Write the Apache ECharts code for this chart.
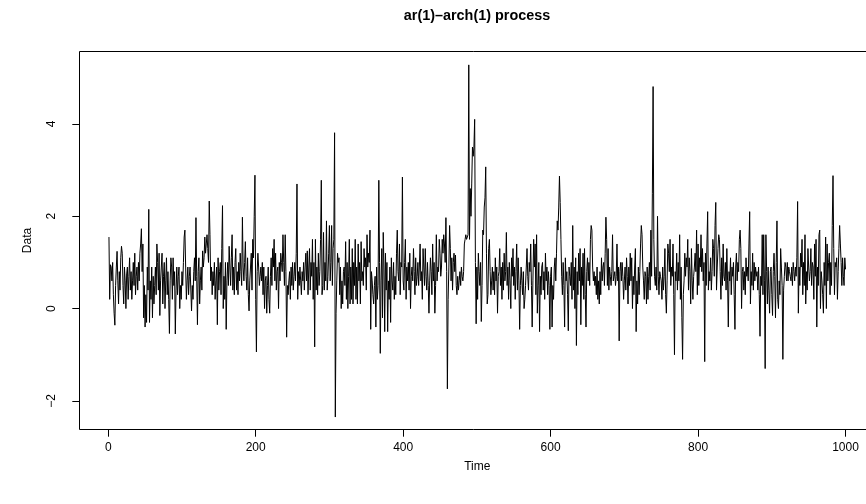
<!DOCTYPE html>
<html><head><meta charset="utf-8">
<script src="https://cdn.jsdelivr.net/npm/echarts@6/dist/echarts.min.js"></script>
<style>html,body{margin:0;padding:0;background:#fff}#c{width:866px;height:504px}</style>
</head><body><div id="c"></div>
<script>
const titleText = 'ar(1)–arch(1) process';
const xName = 'Time';
const yName = 'Data';
const xTicks = [0, 200, 400, 600, 800, 1000];
const yTicks = [-2, 0, 2, 4];
const values = [
1.55,0.2,0.95,0.9,0.6,1.0,0.3,-0.1,-0.36,0.5,0.9,1.24,0.6,0.1,0.8,0.4,1.1,1.35,1.2,0.5,
0.1,0.9,0.6,0.0,0.75,0.9,0.2,0.7,1.1,0.4,0.8,0.2,0.6,1.0,0.5,1.2,0.3,0.7,0.9,0.4,
1.0,0.6,1.2,1.4,1.73,0.8,1.4,-0.2,0.5,-0.4,0.3,-0.3,0.9,0.4,2.15,-0.3,0.6,0.2,0.9,-0.2,
0.7,0.1,0.5,0.9,0.3,1.4,1.0,0.4,1.2,-0.15,0.6,0.9,1.2,0.1,0.7,1.0,0.0,0.6,1.1,0.3,
0.8,0.2,-0.54,0.6,1.1,0.9,0.2,1.1,0.5,0.8,-0.55,0.4,0.9,0.3,0.7,0.9,0.0,0.5,0.2,0.8,
0.5,1.0,1.55,1.7,0.9,0.2,0.6,0.9,0.3,0.7,0.9,0.9,-0.05,0.5,0.2,0.8,1.1,0.6,1.97,0.7,
-0.35,0.8,1.1,0.1,0.6,0.9,0.4,1.25,0.9,1.1,1.55,1.2,1.4,1.6,1.3,1.0,2.33,1.6,0.6,0.9,
0.3,0.8,0.5,1.0,0.2,0.6,0.9,-0.35,1.1,0.4,0.8,1.0,0.3,1.3,2.23,0.0,0.7,0.2,1.0,-0.45,
0.6,1.0,0.5,1.35,0.9,0.5,1.1,1.6,0.4,0.9,0.3,1.0,1.3,0.4,0.8,0.3,1.0,0.6,1.2,0.8,
0.5,1.98,0.9,0.6,1.0,1.45,0.7,0.4,1.1,0.3,-0.05,0.6,0.9,1.2,0.4,1.5,1.1,2.0,2.89,0.2,
-0.94,0.8,1.2,0.9,0.5,0.7,0.9,0.6,1.0,0.3,0.9,0.0,0.6,0.7,-0.1,0.5,0.9,0.2,-0.1,0.7,
1.1,0.5,1.3,0.9,1.5,0.6,1.2,0.4,0.8,0.9,0.0,1.0,0.6,1.2,1.0,0.8,1.6,1.0,0.5,1.6,
0.8,-0.62,0.5,0.3,0.6,0.8,0.2,0.9,0.5,1.0,0.4,0.7,1.0,0.6,1.2,2.7,0.2,0.8,0.5,0.9,
0.6,0.3,0.8,0.6,1.0,0.4,0.9,1.2,0.6,1.25,0.3,0.9,1.3,0.4,1.0,0.7,1.5,0.2,1.0,-0.83,
1.5,0.4,0.9,0.3,1.2,0.5,0.8,1.5,2.78,0.3,0.5,1.65,0.4,1.0,0.6,1.9,0.4,0.7,1.2,1.8,
0.6,1.0,1.8,0.5,1.3,1.5,3.81,-2.35,-0.1,0.6,1.2,1.0,1.1,0.3,0.9,0.0,0.6,0.1,0.8,0.9,
0.5,1.45,0.2,1.0,0.0,0.7,1.5,0.1,0.9,0.2,1.3,0.1,1.0,0.5,1.5,0.2,0.9,0.1,1.4,0.6,
1.0,0.1,1.45,0.6,0.8,0.5,1.3,0.9,1.1,0.4,1.6,0.9,1.2,1.0,1.7,-0.45,0.8,0.6,0.3,0.1,
0.5,0.7,-0.4,0.9,0.2,0.5,2.78,1.0,-0.97,0.6,1.3,-0.2,1.65,0.9,-0.5,1.2,0.4,1.0,-0.5,0.6,
0.2,0.9,-0.3,1.1,0.6,0.4,1.0,0.2,0.7,0.3,1.2,1.7,0.8,0.6,1.4,0.3,1.0,0.9,2.85,0.6,
0.4,1.0,1.5,0.2,0.9,0.6,1.0,0.4,1.2,0.0,0.7,0.9,0.6,1.3,0.8,0.3,1.1,0.5,0.7,1.0,
0.5,0.9,1.4,0.6,0.8,0.2,1.3,0.9,0.5,1.3,0.7,0.4,1.0,0.5,-0.1,0.6,1.1,0.8,0.3,1.4,
0.6,1.0,-0.1,0.5,1.6,0.6,0.9,0.8,1.5,1.2,0.7,0.9,1.5,1.2,1.6,1.4,1.0,1.97,0.8,-1.74,
0.2,0.9,1.8,1.3,0.6,1.1,0.4,1.0,1.2,0.8,1.16,0.5,0.3,0.7,0.4,0.6,0.8,0.5,0.9,0.7,
0.6,0.8,1.4,1.5,1.6,1.5,1.5,1.6,5.28,1.5,2.6,2.0,2.7,3.5,3.3,3.5,4.1,1.0,-0.33,0.9,
0.2,1.2,0.8,0.5,1.0,-0.28,0.5,1.7,1.6,2.2,2.4,3.07,1.2,0.1,0.3,1.3,1.5,0.8,0.3,0.6,
0.9,0.4,0.8,0.3,1.1,0.6,0.9,-0.1,0.7,0.8,1.3,0.5,0.9,0.2,1.0,0.4,1.2,0.6,0.8,1.65,
0.5,0.9,0.2,1.0,0.6,0.0,1.1,0.7,1.3,0.5,0.9,0.2,0.8,1.4,0.4,1.1,0.6,-0.45,0.5,0.9,
0.6,0.3,0.8,0.0,0.2,0.5,0.9,1.3,0.7,0.4,1.0,0.8,1.4,0.5,-0.4,0.6,1.5,0.9,1.4,0.3,
1.6,-0.1,0.5,1.0,-0.5,0.7,0.3,0.9,1.0,0.4,0.8,0.2,1.2,0.6,0.9,0.3,0.8,0.5,-0.45,0.7,
0.9,-0.4,0.5,0.2,0.9,1.1,0.6,1.2,1.9,1.7,2.2,2.87,2.3,1.5,0.7,0.3,1.0,0.5,-0.4,1.1,
0.6,0.8,0.3,-0.48,0.9,0.7,0.5,1.0,0.2,1.8,0.4,0.9,0.0,1.1,-0.8,0.8,0.3,1.2,0.6,1.3,
-0.35,0.9,0.5,1.2,0.2,1.3,0.3,-0.4,0.8,1.1,0.6,1.0,0.5,1.5,1.8,1.7,0.9,0.6,0.8,0.5,
0.7,0.3,0.9,0.2,0.6,0.1,0.8,0.3,1.1,0.6,0.9,1.0,0.5,1.2,1.98,1.5,0.5,1.3,0.4,0.9,
0.7,0.5,0.8,1.6,0.6,0.7,0.8,0.5,0.7,1.4,0.6,0.9,-0.7,0.8,1.0,0.6,1.0,0.7,0.2,0.6,
0.9,0.4,1.1,0.7,0.1,0.9,0.5,1.2,0.6,1.1,0.0,0.7,0.3,0.9,1.3,-0.5,0.6,0.1,0.9,0.3,
0.8,1.4,1.8,1.6,0.9,0.6,0.2,0.8,0.7,0.1,0.9,0.2,0.7,1.0,0.4,1.7,0.7,2.5,4.81,1.5,
0.7,0.5,0.9,0.4,2.0,0.7,0.3,0.8,0.7,0.6,0.2,0.9,0.4,0.7,1.3,0.3,-0.1,0.6,1.4,1.2,
0.8,1.5,0.5,0.9,0.7,1.4,0.3,-1.0,0.8,0.6,1.2,0.4,1.0,0.6,1.6,0.2,0.9,-0.2,-1.1,0.3,
0.6,1.2,0.7,1.1,0.9,1.5,0.4,1.1,0.8,0.1,1.3,0.6,0.2,0.7,0.9,1.2,0.8,1.7,0.3,1.4,
0.5,1.1,0.9,1.6,0.8,1.3,0.6,1.0,-1.15,1.2,0.5,1.4,2.1,0.4,0.8,0.6,1.1,0.4,0.8,1.5,
1.3,0.7,1.8,2.3,0.4,0.9,1.3,1.6,1.5,0.8,0.2,1.1,0.5,1.4,0.7,0.6,1.0,0.4,1.3,0.6,
-0.4,0.8,0.6,1.1,0.3,0.9,0.7,1.0,0.3,-0.45,0.9,1.2,0.6,1.0,0.8,1.5,1.7,1.3,0.0,0.8,
0.9,0.4,0.8,0.3,1.1,0.7,0.9,0.6,1.4,2.1,0.1,0.8,0.5,1.2,0.4,1.0,0.6,0.9,0.7,0.8,
0.4,0.9,0.3,-0.6,0.7,0.5,1.6,0.3,1.6,0.6,-1.3,1.6,0.8,0.1,0.9,0.4,-0.1,0.8,0.9,0.3,
-0.15,0.8,1.2,0.7,-0.2,1.0,1.9,0.2,0.0,0.6,0.3,1.3,0.9,0.5,-1.1,0.4,0.7,1.0,0.9,0.6,
1.0,0.6,0.9,0.8,0.7,0.6,0.9,0.5,1.0,0.8,0.6,0.9,0.7,1.1,2.32,-0.1,0.9,0.5,1.2,0.9,
1.5,0.3,1.0,0.5,1.6,0.1,0.8,0.4,1.3,0.9,0.6,0.8,1.3,0.5,1.0,0.9,0.2,1.4,0.7,1.5,
-0.4,0.9,0.5,1.6,1.7,0.0,0.8,0.6,0.3,-0.1,1.0,0.5,1.55,0.0,1.4,0.6,1.0,1.2,0.3,1.0,
0.5,1.8,2.88,1.3,0.3,1.0,0.9,1.1,0.2,0.8,1.3,1.8,1.4,1.0,0.5,1.1,0.7,0.5,1.1,0.85
];
const times = values.map((v, i) => i + 1);

const font = '"Liberation Sans", Arial, Helvetica, sans-serif';
const chart = echarts.init(document.getElementById('c'), null, {renderer: 'canvas'});
chart.setOption({
  animation: false,
  backgroundColor: '#fff',
  grid: {left: 79.5, top: 51.5, width: 795.5, height: 378, show: true, borderColor: '#000', borderWidth: 1,
    backgroundColor: 'transparent', containLabel: false, outerBoundsMode: 'none'},
  xAxis: {
    type: 'value', min: -38.96, max: 1039.96,
    axisLine: {show: false, onZero: false}, splitLine: {show: false},
    axisTick: {show: true, length: 7.2, customValues: xTicks, lineStyle: {color: '#000', width: 1}},
    axisLabel: {customValues: xTicks, color: '#000', fontSize: 12, fontFamily: font, margin: 12,
      formatter: v => String(v)},
    name: xName, nameLocation: 'middle', nameGap: 31,
    nameTextStyle: {color: '#000', fontSize: 12, fontFamily: font}
  },
  yAxis: {
    type: 'value', min: -2.62, max: 5.57,
    axisLine: {show: false, onZero: false}, splitLine: {show: false},
    axisTick: {show: true, length: 7.2, customValues: yTicks, lineStyle: {color: '#000', width: 1}},
    axisLabel: {customValues: yTicks, rotate: 90, color: '#000', fontSize: 12, fontFamily: font, margin: 22,
      formatter: v => String(v).replace('-', '\u2212')},
    name: yName, nameLocation: 'middle', nameGap: 46, nameRotate: 90,
    nameTextStyle: {color: '#000', fontSize: 12, fontFamily: font}
  },
  graphic: [{
    type: 'text', x: 477, y: 16,
    style: {text: titleText, textAlign: 'center', textVerticalAlign: 'middle', fill: '#000',
      font: 'bold 14.4px ' + font}
  }],
  series: [{
    type: 'line', data: times.map((t, i) => [t, values[i]]),
    showSymbol: false, symbol: 'none', sampling: null,
    lineStyle: {color: '#000', width: 1}, itemStyle: {color: '#000'}
  }]
});
</script></body></html>
